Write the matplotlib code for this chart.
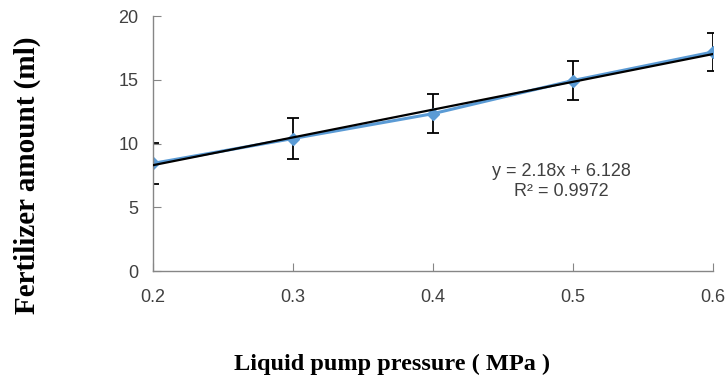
import numpy as np
import matplotlib
matplotlib.use("Agg")
import matplotlib.pyplot as plt

# data
pressure = [0.2, 0.3, 0.4, 0.5, 0.6]
amount = [8.45, 10.4, 12.35, 14.95, 17.19]
amount_err = [1.6, 1.6, 1.55, 1.55, 1.5]
slope = 2.18
intercept = 6.128
r2 = 0.9972
x_ticks = [0.2, 0.3, 0.4, 0.5, 0.6]
y_ticks = [0, 5, 10, 15, 20]

fig = plt.figure(figsize=(7.26, 3.76), dpi=100)
ax = fig.add_axes([0.2107, 0.279, 0.7713, 0.678])

gray = "#868686"
txt = "#404040"

# measured series
ax.errorbar(pressure, amount, yerr=amount_err, color="#5B9BD5", lw=2.2,
            marker="D", ms=6.5, mec="#5B9BD5", mfc="#5B9BD5",
            ecolor="black", elinewidth=1.3, capsize=4, capthick=1.3, zorder=2)

# linear trendline (Excel fits against point index 1..5)
idx = np.arange(1, len(pressure) + 1)
ax.plot(pressure, slope * idx + intercept, color="black", lw=1.6, zorder=3)

ax.text(0.492, 7.05, f"y = {slope}x + {intercept}\nR² = {r2}",
        ha="center", va="center", fontsize=13, color=txt,
        family="Liberation Sans", linespacing=1.2)

ax.set_xlim(0.2, 0.6)
ax.set_ylim(0, 20)
ax.set_xticks(x_ticks)
ax.set_yticks(y_ticks)
ax.set_xticklabels([str(v) for v in x_ticks])

for s in ["top", "right"]:
    ax.spines[s].set_visible(False)
for s in ["left", "bottom"]:
    ax.spines[s].set_color(gray)
    ax.spines[s].set_linewidth(1.0)

ax.tick_params(axis="both", direction="in", length=6, color=gray,
               labelsize=13, labelcolor=txt)
ax.tick_params(axis="x", pad=13)
ax.tick_params(axis="y", pad=10.5)
for lab in ax.get_xticklabels() + ax.get_yticklabels():
    lab.set_family("Liberation Sans")

fig.text(392 / 726, 1 - 364 / 376, "Liquid pump pressure ( MPa )",
         family="Liberation Serif", fontweight="bold", fontsize=17.5,
         ha="center", va="center", color="black")
fig.text(27 / 726, 1 - 175 / 376, "Fertilizer amount (ml)",
         family="Liberation Serif", fontweight="bold", fontsize=21,
         rotation=90, ha="center", va="center", color="black")

fig.savefig("out.png", dpi=100)
